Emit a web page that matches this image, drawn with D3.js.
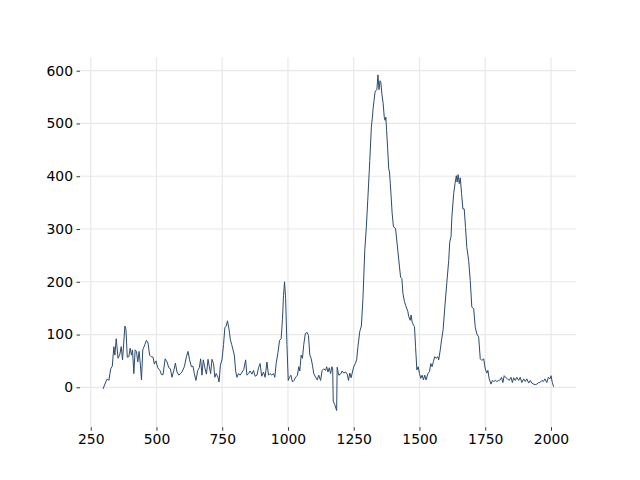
<!DOCTYPE html>
<html>
<head>
<meta charset="utf-8">
<script src="https://cdn.jsdelivr.net/npm/d3@7/dist/d3.min.js"></script>
<style>
html,body{margin:0;padding:0;background:#fff;}
svg text{font-family:"DejaVu Sans",sans-serif;}
</style>
</head>
<body>
<svg id="chart" width="640" height="480"></svg>
<script>
const wavenumber = [297,307,313,319,326,332,338,342,347,354,361,366,371,380,384,389,395,400,405,409,414,419,424,429,434,439,443,448,456,462,468,474,480,487,492,498,505,513,519,525,533,540,547,553,559,566,572,578,585,591,597,606,614,620,626,633,639,644,650,657,663,668,673,678,684,690,696,701,706,711,717,722,727,734,738,743,749,755,760,765,770,776,781,786,791,796,801,806,812,818,826,832,839,844,850,856,863,869,875,882,888,894,900,907,913,920,926,932,939,945,950,955,962,968,974,979,983,987,991,996,1001,1006,1011,1017,1023,1029,1036,1041,1045,1050,1055,1060,1066,1073,1078,1083,1088,1093,1098,1105,1111,1117,1124,1130,1136,1143,1147,1152,1157,1162,1167,1170,1172,1178,1185,1187,1193,1200,1206,1212,1219,1225,1230,1235,1240,1245,1250,1256,1261,1266,1273,1279,1285,1292,1298,1304,1311,1317,1321,1323,1327,1331,1333,1338,1342,1346,1350,1353,1357,1362,1366,1369,1372,1375,1379,1383,1386,1389,1393,1396,1401,1409,1418,1424,1428,1433,1437,1443,1449,1456,1459,1465,1468,1472,1477,1481,1485,1490,1495,1500,1505,1510,1515,1520,1525,1532,1538,1543,1548,1553,1558,1563,1570,1573,1579,1584,1590,1596,1604,1611,1615,1620,1623,1630,1635,1640,1643,1647,1651,1655,1660,1665,1670,1675,1680,1687,1693,1699,1706,1712,1718,1725,1731,1737,1744,1750,1756,1760,1765,1772,1777,1782,1788,1794,1801,1807,1812,1817,1822,1829,1835,1841,1848,1853,1858,1864,1870,1877,1883,1889,1896,1902,1908,1915,1921,1927,1934,1940,1946,1953,1958,1965,1971,1977,1984,1990,1996,2000,2005,2010];
const intensity = [-3,10,16,13,35,40,77,61,92,55,63,77,52,116,110,57,58,74,61,71,26,71,68,48,68,42,14,71,81,89,84,61,58,57,44,50,37,32,24,24,54,48,37,35,19,32,46,29,23,26,29,39,58,68,52,39,40,26,13,32,37,54,23,52,37,25,53,39,26,53,45,19,26,19,10,42,52,81,113,116,126,110,90,81,71,61,31,19,26,23,29,34,52,23,26,31,25,32,21,23,37,45,21,29,19,48,23,26,23,26,19,45,66,89,92,129,174,200,168,81,13,19,23,10,13,19,23,39,31,61,55,81,102,104,98,61,55,42,26,19,14,23,13,32,35,32,39,29,37,26,39,35,-26,-33,-44,38,23,25,31,27,29,25,13,27,18,29,39,45,52,77,106,116,168,260,304,361,430,493,512,525,543,559,562,564,592,564,581,578,556,537,512,506,512,487,452,414,408,386,355,330,304,301,257,228,209,206,178,162,153,143,134,127,137,124,118,115,77,33,39,26,17,23,14,23,14,26,30,45,39,49,58,55,58,52,71,90,110,150,199,240,275,286,322,367,386,401,389,403,386,397,367,338,338,303,265,240,202,152,149,114,101,95,54,51,54,35,27,32,16,6,13,11,13,11,13,14,19,9,22,18,16,13,19,9,18,13,19,13,19,9,16,11,16,8,13,8,6,5,6,9,9,13,11,16,9,19,16,22,9,1];
const xTicks = [250,500,750,1000,1250,1500,1750,2000];
const yTicks = [0,100,200,300,400,500,600];

const svg = d3.select("#chart");
const L = 80, R = 576, T = 57.6, B = 427.2;
const x = d3.scaleLinear().domain([209.3, 2095]).range([L, R]);
const y = d3.scaleLinear().domain([-75.6, 624.8]).range([B, T]);

const grid = svg.append("g");
grid.selectAll("line.v").data(xTicks).enter().append("line")
  .attr("x1", d => x(d)).attr("x2", d => x(d)).attr("y1", T).attr("y2", B)
  .attr("stroke", "#e8e8e8").attr("stroke-width", 1.2);
grid.selectAll("line.h").data(yTicks).enter().append("line")
  .attr("x1", L).attr("x2", R).attr("y1", d => y(d)).attr("y2", d => y(d))
  .attr("stroke", "#e8e8e8").attr("stroke-width", 1.2);

const xAxis = svg.append("g").attr("transform", `translate(0,${B})`)
  .call(d3.axisBottom(x).tickValues(xTicks).tickSize(3.5).tickPadding(3.5).tickFormat(d3.format("d")));
const yAxis = svg.append("g").attr("transform", `translate(${L},0)`)
  .call(d3.axisLeft(y).tickValues(yTicks).tickSize(3.5).tickPadding(3.5).tickFormat(d3.format("d")));
[xAxis, yAxis].forEach(a => {
  a.select(".domain").remove();
  a.selectAll("text").attr("font-size", "13.9px").attr("fill", "#000").attr("font-family", "DejaVu Sans, sans-serif");
  a.selectAll("line").attr("stroke", "#000").attr("stroke-width", 0.8);
});

const pts = wavenumber.map((w, i) => [w, intensity[i]]);
svg.append("path").datum(pts)
  .attr("fill", "none").attr("stroke", "#2c4a6e").attr("stroke-width", 1)
  .attr("stroke-linejoin", "round")
  .attr("d", d3.line().x(d => x(d[0])).y(d => y(d[1])));
</script>
</body>
</html>
